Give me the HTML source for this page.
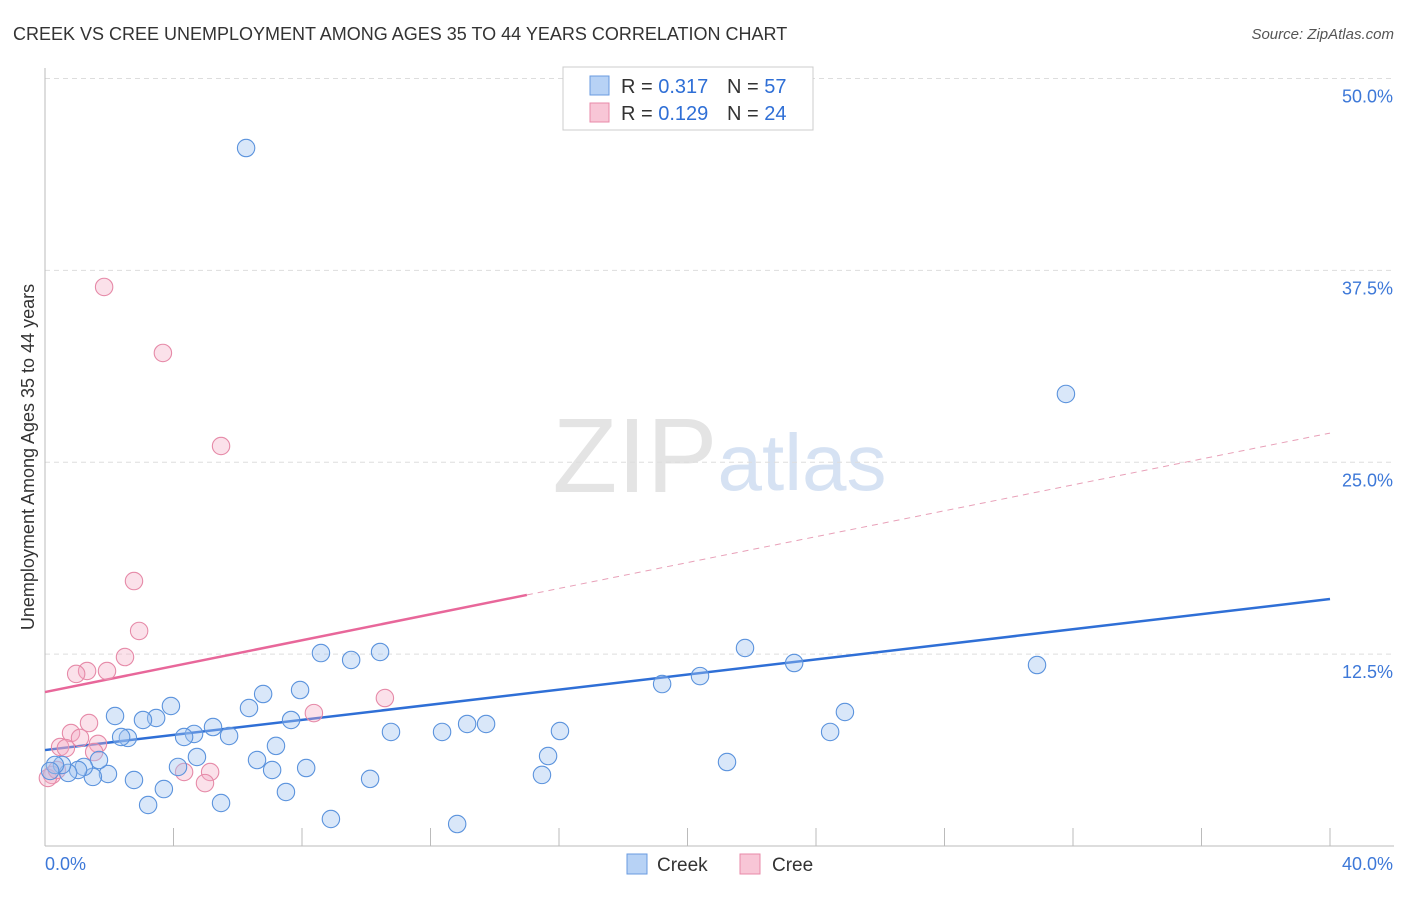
<!DOCTYPE html>
<html><head><meta charset="utf-8"><style>
body{margin:0;background:#fff;font-family:"Liberation Sans",sans-serif;}
svg text{font-family:"Liberation Sans",sans-serif;}
</style></head><body>
<svg id="chart" width="1406" height="892" xmlns="http://www.w3.org/2000/svg">
<text x="13" y="40" font-size="18" fill="#333">CREEK VS CREE UNEMPLOYMENT AMONG AGES 35 TO 44 YEARS CORRELATION CHART</text>
<text x="1394" y="39" font-size="15" fill="#555" text-anchor="end" font-style="italic">Source: ZipAtlas.com</text>
<text transform="translate(34,457) rotate(-90)" font-size="18" fill="#333" text-anchor="middle">Unemployment Among Ages 35 to 44 years</text>
<g><text x="635" y="492" font-size="106" fill="#e4e4e4" text-anchor="middle" font-family="Liberation Serif">ZIP</text><text x="802" y="490" font-size="80" fill="#d6e2f3" text-anchor="middle">atlas</text></g>
<g id="grid"></g><g id="axes"></g><g id="trends"></g><g id="points"></g>
<g>
<rect x="563" y="67" width="250" height="63" fill="#fff" stroke="#ccc"/>
<rect x="590" y="76" width="19" height="19" fill="#b7d2f5" stroke="#6a9be0"/>
<text x="621" y="93" font-size="20" fill="#333">R = <tspan fill="#2f6fd6">0.317</tspan></text>
<text x="727" y="93" font-size="20" fill="#333">N = <tspan fill="#2f6fd6">57</tspan></text>
<rect x="590" y="103" width="19" height="19" fill="#f8c6d6" stroke="#e88aa8"/>
<text x="621" y="120" font-size="20" fill="#333">R = <tspan fill="#2f6fd6">0.129</tspan></text>
<text x="727" y="120" font-size="20" fill="#333">N = <tspan fill="#2f6fd6">24</tspan></text>
</g>
<g>
<rect x="627" y="854" width="20" height="20" fill="#b7d2f5" stroke="#6a9be0"/>
<text x="657" y="871" font-size="19" fill="#333">Creek</text>
<rect x="740" y="854" width="20" height="20" fill="#f8c6d6" stroke="#e88aa8"/>
<text x="772" y="871" font-size="19" fill="#333">Cree</text>
</g>
</svg>
<script>
const yTicks=[12.5,25,37.5,50];
const yTickLabels=["12.5%","25.0%","37.5%","50.0%"];
const xEndLabels=["0.0%","40.0%"];
const creekX=[6.26,31.78,30.88,21.79,23.32,20.39,19.21,24.90,24.44,21.23,16.03,15.66,15.47,13.73,13.14,12.36,10.77,10.43,9.53,8.59,7.94,6.79,6.35,7.66,7.19,6.60,7.07,8.13,7.50,8.90,10.12,12.83,5.48,5.73,5.23,4.73,4.64,4.33,4.14,3.92,3.46,3.05,3.70,3.21,2.77,2.58,2.37,2.18,1.96,1.68,1.49,1.21,1.03,0.72,0.53,0.31,0.16];
const creekY=[45.47,29.45,11.79,12.90,11.92,11.07,10.55,8.73,7.43,5.47,7.49,5.86,4.63,7.95,7.95,7.43,7.43,12.64,12.12,12.57,10.16,9.90,8.99,8.21,6.52,5.60,4.95,5.08,3.52,1.76,4.37,1.43,2.80,7.17,7.75,5.80,7.30,7.10,5.15,9.12,8.34,8.21,3.71,2.67,4.30,7.04,7.10,8.47,4.69,5.60,4.50,5.15,4.95,4.76,5.28,5.28,4.89];
const creeX=[1.84,3.67,5.48,2.77,2.93,2.49,1.93,1.31,0.97,10.58,8.37,1.37,0.81,1.09,1.65,1.53,0.47,0.65,4.33,5.14,4.98,0.22,0.09,0.37];
const creeY=[36.42,32.12,26.06,17.26,14.01,12.31,11.40,11.40,11.21,9.64,8.66,8.01,7.36,7.04,6.65,6.12,6.45,6.38,4.82,4.82,4.10,4.63,4.43,4.95];
const creekTrend=[6.25,16.09];
const creeTrend=[10.03,26.9];
const creeSolidEnd=15.0;

const NS="http://www.w3.org/2000/svg";
const X0=45,X1=1330,Y0=846,PXY=15.35;
const sx=v=>X0+v/40*(X1-X0);
const sy=v=>Y0-v*PXY;
function mk(tag,attrs,parent){const e=document.createElementNS(NS,tag);for(const k in attrs)e.setAttribute(k,attrs[k]);document.getElementById(parent).appendChild(e);return e;}

yTicks.forEach((t,i)=>{
  const l=mk('line',{x1:X0,x2:1394,y1:sy(t),y2:sy(t),stroke:'#ddd','stroke-dasharray':'5,4'},'grid');
  
  
  const tx=mk('text',{x:1393,y:sy(t)+24,'font-size':18,fill:'#3d78d8','text-anchor':'end'},'grid');
  tx.textContent=yTickLabels[i];
  
  
});
const ax=mk('line',{x1:X0,x2:1394,y1:Y0,y2:Y0,stroke:'#bbb'},'axes');


const ay=mk('line',{x1:X0,x2:X0,y1:68,y2:Y0,stroke:'#bbb'},'axes');


for(let v=4;v<=40;v+=4){
  const t=mk('line',{x1:sx(v),x2:sx(v),y1:Y0,y2:Y0-18,stroke:'#bbb'},'axes');
  
  
}
const xl0=mk('text',{x:45,y:870,'font-size':18,fill:'#3d78d8'},'axes');xl0.textContent=xEndLabels[0];


const xl1=mk('text',{x:1393,y:870,'font-size':18,fill:'#3d78d8','text-anchor':'end'},'axes');xl1.textContent=xEndLabels[1];



function dot(x,y,fill,stroke,name){
  const c=mk('circle',{cx:sx(x),cy:sy(y),r:8.7,fill:fill,stroke:stroke,'stroke-width':1.1},'points');
  
  
}
creeX.forEach((x,i)=>dot(x,creeY[i],'rgba(244,170,196,0.35)','#e68aa8','cree-point'));
creekX.forEach((x,i)=>dot(x,creekY[i],'rgba(160,196,240,0.4)','#5b93dd','creek-point'));

const bt=mk('line',{x1:sx(0),y1:sy(creekTrend[0]),x2:sx(40),y2:sy(creekTrend[1]),stroke:'#2f6fd6','stroke-width':2.5},'trends');


const cy=v=>creeTrend[0]+(creeTrend[1]-creeTrend[0])*v/40;
const pt=mk('line',{x1:sx(0),y1:sy(creeTrend[0]),x2:sx(creeSolidEnd),y2:sy(cy(creeSolidEnd)),stroke:'#e8679a','stroke-width':2.5},'trends');


const pd=mk('line',{x1:sx(creeSolidEnd),y1:sy(cy(creeSolidEnd)),x2:sx(40),y2:sy(creeTrend[1]),stroke:'#e8a0b8','stroke-width':1,'stroke-dasharray':'6,5'},'trends');


</script>
</body></html>
